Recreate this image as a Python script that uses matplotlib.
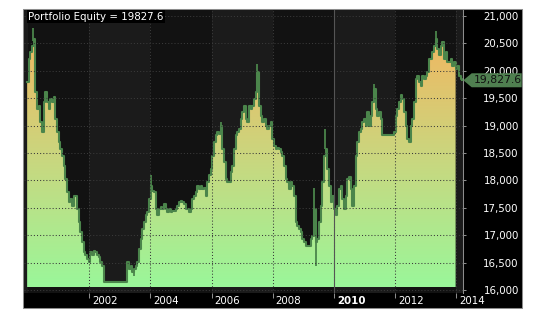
import numpy as np
import pandas as pd
import matplotlib
matplotlib.use("Agg")
import matplotlib.pyplot as plt
import matplotlib.dates as mdates
from datetime import datetime
from matplotlib.colors import LinearSegmentedColormap
from matplotlib.patches import Rectangle, Polygon
from matplotlib.transforms import ScaledTranslation, blended_transform_factory

plt.rcParams['font.family'] = 'DejaVu Sans'

# portfolio equity, one close every ~20 days from Dec 1999 to Mar 2014
equity = [
    19800, 20220, 20340, 20460, 20580, 19610, 19300, 19360, 19060, 18880,
    19430, 19610, 19430, 19300, 19490, 19430, 19520, 19120, 18880, 18700,
    18570, 18450, 18270, 18030, 17780, 17600, 17660, 17540, 17720, 17720,
    17480, 17240, 17050, 16870, 16690, 16630, 16570, 16510, 16690, 16630,
    16720, 16690, 16630, 16600, 16510, 16440,
    16150, 16150, 16150, 16150, 16150, 16150, 16150, 16150, 16150, 16150,
    16150, 16150, 16150, 16150,
    16510, 16380, 16440, 16320,
    # 2003 - 2006
    16380, 16440, 16510, 16750, 16930, 17110, 17240, 17360, 17420, 17660,
    17900, 17810, 17780, 17480, 17360, 17480, 17510, 17480, 17570, 17480,
    17420, 17480, 17420, 17450, 17450, 17480, 17540, 17600, 17630, 17600,
    17570, 17480, 17480, 17420, 17480, 17660, 17720, 17780, 17900, 17840,
    17900, 17840, 17870, 17720, 17970, 18090, 18210, 18450, 18700, 18820,
    18880, 18850, 19000, 18570, 18330, 18030, 17970, 17970, 18150, 18270,
    18570, 18820, 18880, 18940, 19120, 19240,
    # 2007 - 2010
    19360, 19120, 19060, 19360, 19300, 19360, 19490, 19610, 19970, 19360,
    19180, 19060, 19120, 19000, 18940, 19000, 19060, 18760, 18630, 18570,
    18600, 18570, 18510, 18450, 18270, 18030, 17970, 17840, 17970, 17900,
    17720, 17240, 17170, 17110, 17050, 16930, 16870, 16810, 16810, 16810,
    16930, 16990, 17480, 16870, 16930, 17240, 17540, 17970, 18450, 18570,
    18210, 17900, 17600, 17720, 17480, 17360, 17540, 17840, 17900, 17660,
    17480, 17720, 18030, 18060, 17840, 17540,
    # 2010 - 2014
    17900, 18450, 18700, 18880, 18940, 19060, 19120, 19000, 19240, 19000,
    19180, 19430, 19670, 19300, 19180, 19240, 19120, 18820, 18820, 18820,
    18820, 18820, 18820, 18820, 18880, 19180, 19300, 19430, 19550, 19490,
    19240, 19000, 18760, 18700, 19000, 19120, 19430, 19850, 19910, 19790,
    19730, 19910, 19850, 19910, 19970, 20220, 20220, 20340, 20460, 20580,
    20400, 20280, 20460, 20520, 20220, 20340, 20160, 20160, 20220, 20090,
    20160, 20030, 20090, 19910, 19850, 19827.6,
]
start_date = '1999-12-20'
end_date = '2014-03-17'
fill_end = '2014-01-01'

# intraperiod extremes sticking out of the curve
spike_dates = ['2000-03-03', '2003-06-18', '2004-01-05', '2006-04-20', '2007-07-01',
               '2009-05-08', '2009-05-30', '2009-09-24', '2011-04-27', '2013-05-01']
spike_values = [20790, 16260, 18090, 19060, 20120,
                17870, 16440, 18940, 19760, 20730]

year_ticks = [2002, 2004, 2006, 2008, 2010, 2012, 2014]
y_ticks = [16000, 16500, 17000, 17500, 18000, 18500, 19000, 19500, 20000, 20500, 21000]
last_value = equity[-1]

W, H = 538, 310
fig = plt.figure(figsize=(W / 100, H / 100), dpi=100, facecolor='white')


def fx(px):
    return px / W


def fy(py):
    return 1 - py / H


X2002 = mdates.date2num(datetime(2002, 1, 1))


def px2num(px):
    return X2002 + (px - 89.3) / 30.56 * 365.25


def py2val(py):
    return 16000 + (290 - py) * 18.25


fig.add_artist(Rectangle((fx(23), fy(308)), fx(522) - fx(23), fy(9) - fy(308),
                         transform=fig.transFigure, fc='black', ec='#8c8c8c',
                         lw=0.75, zorder=-1))

ax = fig.add_axes([fx(24), fy(293), fx(463) - fx(24), fy(10) - fy(293)])
x0, x1 = px2num(24), px2num(463)
y0, y1 = py2val(293), py2val(10)

# alternating two-year background bands
for yr in range(1998, 2016, 2):
    c = '#1b1b1b' if (yr // 2) % 2 == 1 else '#121212'
    ax.axvspan(mdates.date2num(datetime(yr, 1, 1)), mdates.date2num(datetime(yr + 2, 1, 1)),
               color=c, lw=0, zorder=0)

dates = pd.date_range(start_date, end_date, periods=len(equity))
xd = mdates.date2num(dates.to_pydatetime())
eq = np.array(equity)

base = py2val(287.3)
cmap = LinearSegmentedColormap.from_list('eq', ['#9af79a', '#c9d77f', '#f2b660'])
grad = np.linspace(0, 1, 256).reshape(-1, 1)
im = ax.imshow(grad, cmap=cmap, extent=[x0, x1, base, 20700], origin='lower',
               aspect='auto', zorder=2, interpolation='bilinear')
mask = xd <= mdates.date2num(pd.Timestamp(fill_end))
poly = ax.fill_between(xd[mask], base, eq[mask], step='post', lw=0)
im.set_clip_path(poly.get_paths()[0], ax.transData)
poly.remove()

green = '#4b854b'
ax.step(xd, eq, where='post', color=green, lw=1.5, zorder=3)
sx = mdates.date2num(pd.to_datetime(spike_dates).to_pydatetime())
ax.vlines(sx, np.interp(sx, xd, eq), spike_values, color=green, lw=1.3, zorder=3)

grid_kw = dict(color='#3a3a3a', lw=0.75, ls=(0, (1, 2)), zorder=4)
for v in y_ticks:
    ax.axhline(v, **grid_kw)
for yr in year_ticks:
    ax.axvline(mdates.date2num(datetime(yr, 1, 1)), **grid_kw)
ax.axvline(mdates.date2num(datetime(2010, 1, 1)), color='#555555', lw=0.8, zorder=4)

ax.set_xlim(x0, x1)
ax.set_ylim(y0, y1)

ax.yaxis.tick_right()
ax.set_yticks(y_ticks)
ax.set_yticklabels([f'{v:,}' for v in y_ticks])
ax.tick_params(axis='y', colors='#8c8c8c', labelcolor='white', length=2.2, width=0.75,
               pad=38, labelsize=7.4)
for lab in ax.get_yticklabels():
    lab.set_horizontalalignment('right')

ax.set_xticks([mdates.date2num(datetime(y, 1, 1)) for y in year_ticks])
ax.set_xticklabels([str(y) for y in year_ticks])
ax.tick_params(axis='x', colors='#8c8c8c', labelcolor='white', length=3.6, width=0.75,
               pad=-1.5, labelsize=7.4)
shift = ScaledTranslation(3 / 100, 0, fig.dpi_scale_trans)
for lab, y in zip(ax.get_xticklabels(), year_ticks):
    lab.set_horizontalalignment('left')
    lab.set_transform(lab.get_transform() + shift)
    if y == 2010:
        lab.set_fontweight('bold')

for s in ['left', 'top', 'bottom']:
    ax.spines[s].set_visible(False)
ax.spines['right'].set_color('#8c8c8c')
ax.spines['right'].set_linewidth(0.75)

fig.text(fx(28), fy(16.5), f'Portfolio Equity = {last_value}', color='white',
         fontsize=7.4, ha='left', va='center', zorder=10,
         bbox=dict(fc='black', ec='none', pad=1))

# value marker on the right axis
tr = blended_transform_factory(fig.transFigure, ax.transData)
hh = 7 * 18.25
arrow = Polygon([[fx(463.3), last_value], [fx(471.7), last_value + hh],
                 [fx(521.7), last_value + hh], [fx(521.7), last_value - hh],
                 [fx(471.7), last_value - hh]], closed=True, transform=tr,
                fc='#4f7f50', ec='none', clip_on=False, zorder=10)
ax.add_patch(arrow)
ax.text(fx(521.5), last_value, f'{last_value:,.1f}', transform=tr, ha='right',
        va='center', color='#111111', fontsize=7.8, zorder=11, clip_on=False)

fig.savefig('out.png', dpi=100, facecolor='white')
